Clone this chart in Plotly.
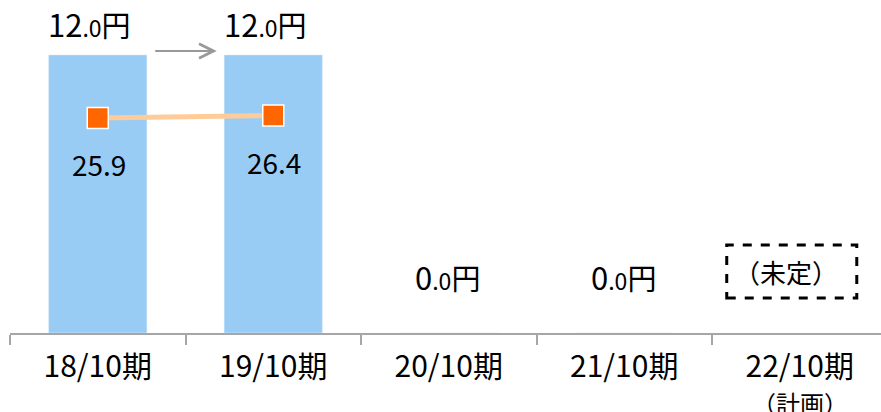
import plotly.graph_objects as go

categories = ["18/10期", "19/10期", "20/10期", "21/10期", "22/10期"]
dividend = [12.0, 12.0, 0.0, 0.0, None]
payout_cats = ["18/10期", "19/10期"]
payout = [25.9, 26.4]
undecided_label = "（未定）"
plan_label = "（計画）"

FONT = "Noto Sans CJK JP"
BAR_COLOR = "#99CCF5"
AXIS_GRAY = "#A6A6A6"

fig = go.Figure()
fig.add_trace(go.Bar(
    x=categories, y=dividend, marker_color=BAR_COLOR, width=0.56,
    hoverinfo="skip", showlegend=False,
))
fig.add_trace(go.Scatter(
    x=payout_cats, y=payout, yaxis="y2", mode="lines+markers",
    line=dict(color="#FFCC99", width=5),
    marker=dict(symbol="square", size=21, color="#FF6600",
                line=dict(color="white", width=1.5)),
    hoverinfo="skip", showlegend=False,
))

annotations = []
# dividend labels
for i, v in enumerate(dividend):
    if v is None:
        continue
    ip = int(v)
    dec = f"{v:.1f}".split(".")[1]
    txt = (f"<span style='font-size:31px'>{ip}</span>"
           f"<span style='font-size:23px'>.{dec}</span>"
           f"<span style='font-size:29px'>円</span>")
    annotations.append(dict(
        x=i, y=v, xref="x", yref="y", text=txt, showarrow=False,
        xanchor="center", yanchor="middle",
        xshift=-8 if v > 0 else -1, yshift=31 if v > 0 else 57,
        font=dict(family=FONT, size=29, color="black"),
    ))
# payout labels
for i, v in enumerate(payout):
    annotations.append(dict(
        x=i, y=v, xref="x", yref="y2", text=f"{v:.1f}", showarrow=False,
        xanchor="center", yanchor="middle", xshift=1, yshift=-46,
        font=dict(family=FONT, size=28, color="black"),
    ))
# arrow between first two
annotations.append(dict(
    x=0.678, y=12.17, ax=0.319, ay=12.17, xref="x", yref="y",
    axref="x", ayref="y", text="", showarrow=True,
    arrowhead=5, arrowsize=1.3, arrowwidth=2.2, arrowcolor="#999999",
    standoff=0, startstandoff=0,
))
# undecided label
annotations.append(dict(
    x=3.92, y=0.185, xref="x", yref="paper", text=undecided_label,
    showarrow=False, xanchor="center", yanchor="middle",
    font=dict(family=FONT, size=26, color="black"),
))
# plan sub label
annotations.append(dict(
    x=4, y=0, xref="x", yref="paper", text=plan_label, showarrow=False,
    xanchor="center", yanchor="middle", yshift=-69,
    font=dict(family=FONT, size=24, color="black"),
))

fig.update_layout(
    width=881, height=412,
    margin=dict(l=10, r=0, t=0, b=79),
    paper_bgcolor="white", plot_bgcolor="white",
    xaxis=dict(
        type="category", range=[-0.5, 4.463], tickson="boundaries",
        ticks="outside", ticklen=10, tickwidth=2, tickcolor=AXIS_GRAY,
        ticklabelstandoff=6,
        showline=True, linecolor=AXIS_GRAY, linewidth=2,
        showgrid=False, zeroline=False,
        tickfont=dict(family=FONT, size=30, color="black"),
    ),
    yaxis=dict(range=[0, 14.37], visible=False, showgrid=False),
    yaxis2=dict(range=[-17.1, 49.5], overlaying="y", visible=False,
                showgrid=False),
    annotations=annotations,
    shapes=[dict(
        type="rect", xref="x", yref="paper",
        x0=3.584, x1=4.325, y0=0.105, y1=0.264,
        line=dict(color="black", width=3, dash="dash"),
        fillcolor="rgba(0,0,0,0)",
    )],
)

# remove the page's default body margin so the figure fills the window
fig.write_html(
    "out.html",
    config={"displayModeBar": False, "staticPlot": True},
    post_script="document.body.style.margin='0';document.body.style.overflow='hidden';",
)
